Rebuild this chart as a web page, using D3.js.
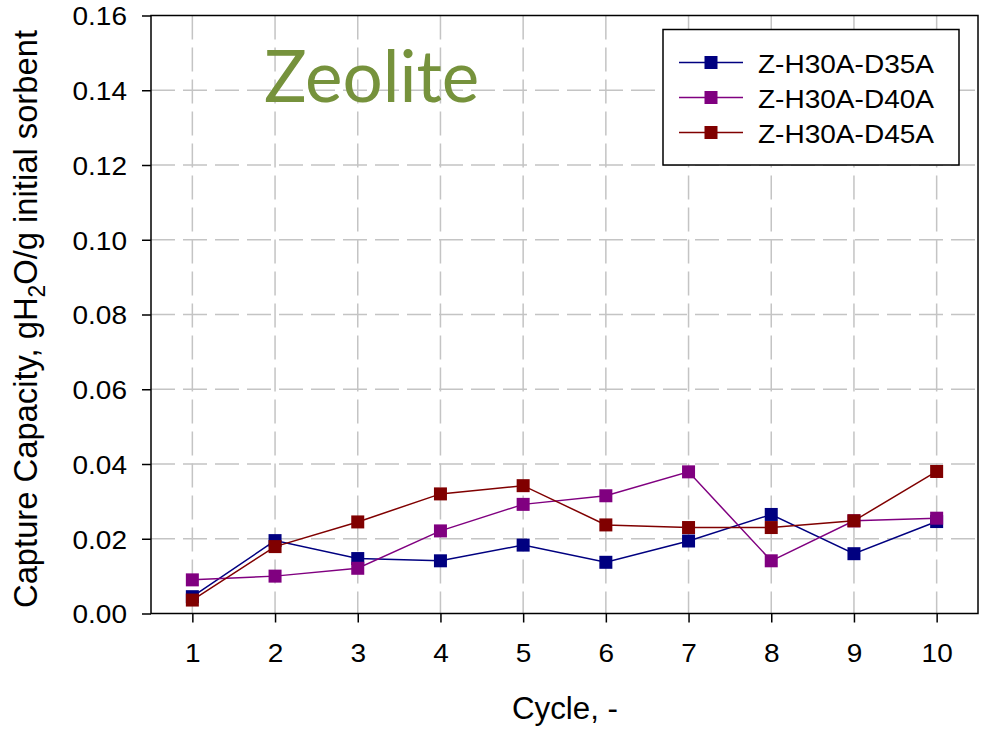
<!DOCTYPE html>
<html>
<head>
<meta charset="utf-8">
<script src="https://cdn.jsdelivr.net/npm/d3@7"></script>
<style>
  body { margin: 0; background: #fff; }
</style>
</head>
<body>
<div id="chart"></div>
<script>
// data
var cycles = [1, 2, 3, 4, 5, 6, 7, 8, 9, 10];
var d35 = [0.0045, 0.0195, 0.0147, 0.0141, 0.0183, 0.0137, 0.0194, 0.0265, 0.0160, 0.0246];
var d40 = [0.0090, 0.0100, 0.0121, 0.0221, 0.0292, 0.0315, 0.0379, 0.0141, 0.0248, 0.0255];
var d45 = [0.0036, 0.0179, 0.0245, 0.0320, 0.0342, 0.0237, 0.0230, 0.0230, 0.0248, 0.0380];
var seriesNames = ["Z-H30A-D35A", "Z-H30A-D40A", "Z-H30A-D45A"];
var seriesColors = ["#000080", "#800080", "#800000"];
var yTicks = [0, 0.02, 0.04, 0.06, 0.08, 0.10, 0.12, 0.14, 0.16];

var W = 989, H = 732;
var pLeft = 151, pRight = 978, pTop = 15.5, pBottom = 613.5;
var sx = 1.12; // glyphs in the reference are a bit wide
var font = "Liberation Sans, Arial, sans-serif";

var svg = d3.select("#chart").append("svg")
    .attr("width", W)
    .attr("height", H)
    .attr("font-family", font);

var x = d3.scaleLinear().domain([0.5, 10.5]).range([pLeft, pRight]);
var y = d3.scaleLinear().domain([0, 0.16]).range([pBottom, pTop]);

// grid
svg.append("g")
    .selectAll("line")
    .data(yTicks.slice(1, -1))
    .join("line")
      .attr("x1", pLeft).attr("x2", pRight)
      .attr("y1", d => y(d)).attr("y2", d => y(d))
      .attr("stroke", "#c4c4c4")
      .attr("stroke-width", 1.5)
      .attr("stroke-dasharray", "24,8");

svg.append("g")
    .selectAll("line")
    .data(cycles)
    .join("line")
      .attr("x1", d => x(d)).attr("x2", d => x(d))
      .attr("y1", pTop).attr("y2", pBottom)
      .attr("stroke", "#c4c4c4")
      .attr("stroke-width", 1.5)
      .attr("stroke-dasharray", "24,8");

// axes
var xAxis = svg.append("g")
    .attr("transform", "translate(0," + pBottom + ")")
    .call(d3.axisBottom(x).tickValues(cycles).tickSize(9).tickSizeOuter(0).tickFormat(d3.format("d")));
var yAxis = svg.append("g")
    .attr("transform", "translate(" + pLeft + ",0)")
    .call(d3.axisLeft(y).tickValues(yTicks).tickSize(9).tickSizeOuter(0).tickFormat(d3.format(".2f")));

[xAxis, yAxis].forEach(function(g) {
  g.attr("font-size", 25).attr("font-family", font);
  g.select(".domain").remove();
  g.selectAll("line").attr("stroke", "#000").attr("stroke-width", 1.5);
  g.selectAll("text").attr("fill", "#000");
});
xAxis.selectAll("text")
    .attr("y", null).attr("dy", null)
    .attr("transform", "translate(0,48) scale(" + sx + ",1)");
yAxis.selectAll("text")
    .attr("x", null).attr("dy", null)
    .attr("dominant-baseline", "central")
    .attr("transform", "translate(-24,1) scale(" + sx + ",1)");

// frame
svg.append("rect")
    .attr("x", pLeft).attr("y", pTop)
    .attr("width", pRight - pLeft).attr("height", pBottom - pTop)
    .attr("fill", "none").attr("stroke", "#000").attr("stroke-width", 1.5);

// series
var allSeries = [d35, d40, d45];
var line = d3.line()
    .x((d, i) => x(cycles[i]))
    .y(d => y(d));
var ms = 13;

allSeries.forEach(function(vals, k) {
  var g = svg.append("g");
  g.append("path")
      .attr("d", line(vals))
      .attr("fill", "none")
      .attr("stroke", seriesColors[k])
      .attr("stroke-width", 1.5);
  g.selectAll("rect")
    .data(vals)
    .join("rect")
      .attr("x", (d, i) => x(cycles[i]) - ms / 2)
      .attr("y", d => y(d) - ms / 2)
      .attr("width", ms).attr("height", ms)
      .attr("fill", seriesColors[k]);
});

// legend
var legend = svg.append("g");
legend.append("rect")
    .attr("x", 663).attr("y", 29.5)
    .attr("width", 296).attr("height", 135.5)
    .attr("fill", "#fff").attr("stroke", "#000").attr("stroke-width", 1.5);
var rows = legend.selectAll("g.row")
    .data(seriesNames)
    .join("g")
      .attr("class", "row")
      .attr("transform", (d, i) => "translate(0," + (62.5 + i * 35) + ")");
rows.append("line")
    .attr("x1", 679).attr("x2", 743)
    .attr("stroke", (d, i) => seriesColors[i]).attr("stroke-width", 1.5);
rows.append("rect")
    .attr("x", 711 - ms / 2).attr("y", -ms / 2)
    .attr("width", ms).attr("height", ms)
    .attr("fill", (d, i) => seriesColors[i]);
rows.append("text")
    .attr("x", 758).attr("y", 1)
    .attr("dominant-baseline", "central")
    .attr("font-size", 25)
    .attr("textLength", 176)
    .attr("lengthAdjust", "spacingAndGlyphs")
    .text(d => d);

// titles
svg.append("text")
    .attr("x", 512).attr("y", 719)
    .attr("font-size", 31)
    .attr("textLength", 106)
    .attr("lengthAdjust", "spacingAndGlyphs")
    .text("Cycle, -");

var yl = svg.append("text")
    .attr("transform", "translate(37,608) rotate(-90)")
    .attr("font-size", 33)
    .attr("textLength", 578)
    .attr("lengthAdjust", "spacingAndGlyphs");
yl.append("tspan").text("Capture Capacity, gH");
yl.append("tspan").attr("font-size", 23).attr("dy", 8).text("2");
yl.append("tspan").attr("dy", -8).text("O/g initial sorbent");

svg.append("text")
    .attr("x", 264).attr("y", 102)
    .attr("font-family", "Lato, 'Open Sans', sans-serif")
    .attr("font-size", 71)
    .attr("fill", "#76923c")
    .text("Zeolite");
</script>
</body>
</html>
